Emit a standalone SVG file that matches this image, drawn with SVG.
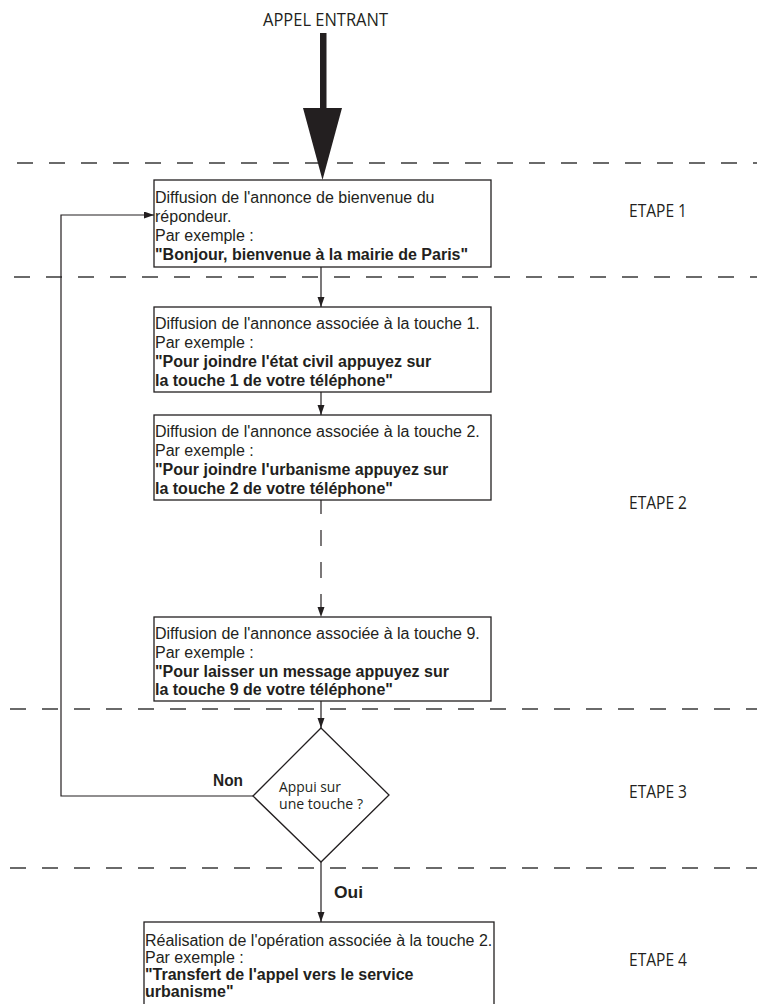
<svg xmlns="http://www.w3.org/2000/svg" width="757" height="1004" viewBox="0 0 757 1004">
<style>
.bx{fill:#fff;stroke:#231f20;stroke-width:1.3}
.t{font-family:"Liberation Sans",Arial,sans-serif;font-size:16px;fill:#231f20}
.b{font-weight:bold}
.m{font-family:"Open Sans","Noto Sans",sans-serif;fill:#231f20}
.sep{stroke:#3a3a3a;stroke-width:1.3;stroke-dasharray:16 16;fill:none}
.ln{stroke:#231f20;stroke-width:1.2;fill:none}
</style>
<defs>
<marker id="ah" markerUnits="userSpaceOnUse" markerWidth="11" markerHeight="8" refX="10" refY="3.5" orient="auto">
<path d="M0,0 L10,3.5 L0,7 Z" fill="#231f20"/>
</marker>
</defs>
<rect width="757" height="1004" fill="#fff"/>
<g id="separators">
<line class="sep" x1="17" y1="163" x2="757" y2="163"/>
<line class="sep" x1="14" y1="277" x2="757" y2="277"/>
<line class="sep" x1="10" y1="709" x2="757" y2="709"/>
<line class="sep" x1="10" y1="868" x2="757" y2="868"/>
</g>
<g id="etapes" class="m" font-size="17.5">
<text x="629" y="217" textLength="58" lengthAdjust="spacingAndGlyphs">ETAPE 1</text>
<text x="629" y="509" textLength="58" lengthAdjust="spacingAndGlyphs">ETAPE 2</text>
<text x="629" y="798" textLength="58" lengthAdjust="spacingAndGlyphs">ETAPE 3</text>
<text x="629" y="966" textLength="58" lengthAdjust="spacingAndGlyphs">ETAPE 4</text>
</g>
<g id="entree">
<text class="m" x="263" y="26" font-size="18" textLength="125" lengthAdjust="spacingAndGlyphs">APPEL ENTRANT</text>
<rect x="320" y="33" width="6.5" height="77" fill="#231f20"/>
<polygon points="303,108 342,108 322.5,180" fill="#231f20"/>
</g>
<g id="connectors">
<line class="ln" x1="321" y1="267" x2="321" y2="307" marker-end="url(#ah)"/>
<line class="ln" x1="321" y1="392" x2="321" y2="415" marker-end="url(#ah)"/>
<line class="ln" x1="321" y1="500" x2="321" y2="617" stroke-dasharray="14 16 16 16 16 16 16 16" marker-end="url(#ah)"/>
<line class="ln" x1="321" y1="701" x2="321" y2="728" marker-end="url(#ah)"/>
<polyline class="ln" points="253,796 61,796 61,215 154,215" marker-end="url(#ah)"/>
<line class="ln" x1="321" y1="862" x2="321" y2="922" marker-end="url(#ah)"/>
<text class="t b" x="213" y="786" font-size="15" textLength="30" lengthAdjust="spacingAndGlyphs">Non</text>
<text class="t b" x="334" y="898" font-size="15" textLength="29" lengthAdjust="spacingAndGlyphs">Oui</text>
</g>
<g id="box1">
<rect class="bx" x="154" y="180" width="337" height="87"/>
<text class="t" x="155" y="203">Diffusion de l'annonce de bienvenue du</text>
<text class="t" x="155" y="222">répondeur.</text>
<text class="t" x="155" y="241">Par exemple :</text>
<text class="t b" x="155" y="260">"Bonjour, bienvenue à la mairie de Paris"</text>
</g>
<g id="box2">
<rect class="bx" x="154" y="307" width="337" height="85"/>
<text class="t" x="155" y="329">Diffusion de l'annonce associée à la touche 1.</text>
<text class="t" x="155" y="348">Par exemple :</text>
<text class="t b" x="155" y="367">"Pour joindre l'état civil appuyez sur</text>
<text class="t b" x="155" y="386">la touche 1 de votre téléphone"</text>
</g>
<g id="box3">
<rect class="bx" x="154" y="415" width="337" height="85"/>
<text class="t" x="155" y="437">Diffusion de l'annonce associée à la touche 2.</text>
<text class="t" x="155" y="456">Par exemple :</text>
<text class="t b" x="155" y="475">"Pour joindre l'urbanisme appuyez sur</text>
<text class="t b" x="155" y="494">la touche 2 de votre téléphone"</text>
</g>
<g id="box4">
<rect class="bx" x="154" y="617" width="337" height="84"/>
<text class="t" x="155" y="639">Diffusion de l'annonce associée à la touche 9.</text>
<text class="t" x="155" y="658">Par exemple :</text>
<text class="t b" x="155" y="677">"Pour laisser un message appuyez sur</text>
<text class="t b" x="155" y="695">la touche 9 de votre téléphone"</text>
</g>
<g id="decision">
<polygon class="bx" points="321,728 389,795 321,862 253,796"/>
<text class="m" x="279" y="792" font-size="14.5" textLength="62" lengthAdjust="spacingAndGlyphs">Appui sur</text>
<text class="m" x="279" y="809" font-size="14.5" textLength="84" lengthAdjust="spacingAndGlyphs">une touche ?</text>
</g>
<g id="box5">
<rect class="bx" x="144" y="922" width="350" height="90"/>
<text class="t" x="145" y="946">Réalisation de l'opération associée à la touche 2.</text>
<text class="t" x="145" y="963">Par exemple :</text>
<text class="t b" x="145" y="980">"Transfert de l'appel vers le service</text>
<text class="t b" x="145" y="997">urbanisme"</text>
</g>
</svg>
